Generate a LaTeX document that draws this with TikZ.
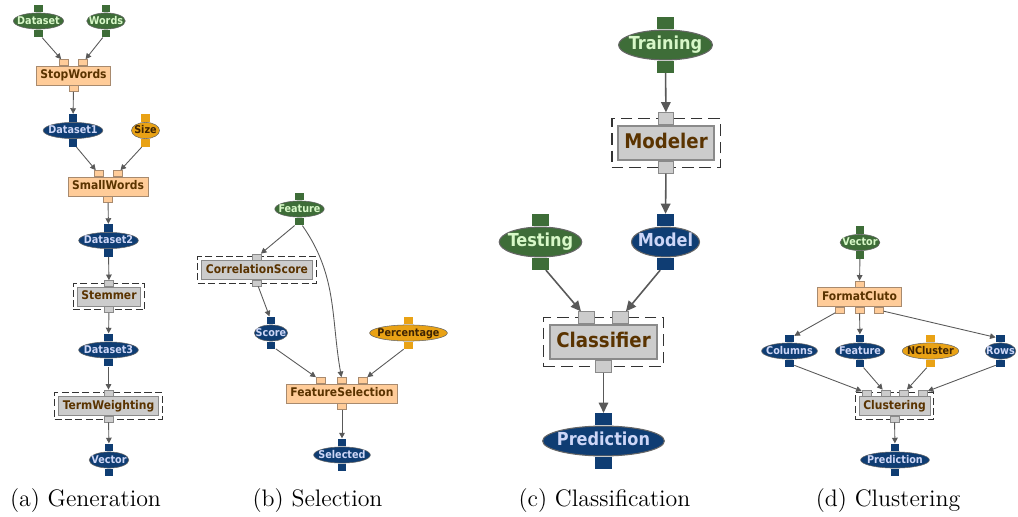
\documentclass[tikz,border=0pt]{standalone}
\usepackage{fontspec}
\newfontfamily\wffont{DejaVu Sans Condensed}
\usetikzlibrary{shapes.geometric,arrows.meta,positioning,calc,fit}

\definecolor{dgreen}{HTML}{3E6D38}
\definecolor{lgreen}{HTML}{D8F8C8}
\definecolor{dblue}{HTML}{0F3D73}
\definecolor{lblue}{HTML}{CDD6F7}
\definecolor{dorange}{HTML}{E9A215}
\definecolor{peach}{HTML}{FFCC99}
\definecolor{lgray}{HTML}{CCCCCC}
\definecolor{boxline}{HTML}{A88A6E}
\definecolor{grayline}{HTML}{8A8A8A}
\definecolor{dbrown}{HTML}{3E2403}
\definecolor{tbrown}{HTML}{5A3300}

\tikzset{
	data/.style={ellipse, draw=black!60, line width=0.3pt, inner xsep=-2pt, inner ysep=0pt,
		text height=4.5pt, text depth=1pt, minimum height=9.2pt, minimum width=16pt,
		font=\wffont\bfseries\fontsize{6.1}{7}\selectfont},
	indata/.style={data, fill=dgreen, text=lgreen},
	outdata/.style={data, fill=dblue, text=lblue},
	param/.style={data, fill=dorange, text=dbrown},
	big/.style={inner xsep=-2pt, text height=7.6pt, text depth=2.2pt, minimum height=17pt,
		line width=0.6pt, font=\wffont\bfseries\fontsize{10.2}{12}\selectfont},
	task/.style={rectangle, draw=boxline, fill=peach, text=tbrown, line width=0.4pt,
		inner xsep=2.4pt, inner ysep=0pt, text height=5pt, text depth=1.4pt, minimum height=10.8pt,
		font=\wffont\bfseries\fontsize{6.8}{8}\selectfont},
	subtask/.style={task, draw=grayline, fill=lgray},
	bigtask/.style={inner xsep=3.5pt, text height=8.5pt, text depth=2.4pt, minimum height=19.3pt,
		line width=0.8pt, font=\wffont\bfseries\fontsize{11.5}{13}\selectfont},
	dashframe/.style={draw=black!80, line width=0.5pt, dash pattern=on 4pt off 1.9pt, inner sep=2pt},
	bigframe/.style={dashframe, line width=1pt, dash pattern=on 6.6pt off 3.4pt, inner xsep=3.3pt, inner ysep=3.9pt},
	port/.style={rectangle, inner sep=0pt, minimum width=5.1pt, minimum height=4.3pt},
	bigport/.style={port, minimum width=10pt, minimum height=6.8pt},
	tport/.style={port, fill=peach, draw=boxline, line width=0.3pt, minimum height=3.4pt},
	gport/.style={port, fill=lgray, draw=grayline, line width=0.3pt, minimum height=3.4pt},
	biggport/.style={gport, line width=0.6pt, minimum width=9pt, minimum height=6.8pt},
	flow/.style={draw=black!65, line width=0.5pt, -{Triangle[length=3.2pt,width=3.2pt]}},
	bigflow/.style={flow, line width=0.9pt, -{Triangle[length=5.8pt,width=5.4pt]}},
	wfcap/.style={font=\fontsize{13.6}{16}\selectfont, anchor=base}
}

\begin{document}
\begin{tikzpicture}[x=0.02cm, y=-0.02cm]
	\useasboundingbox (0,0) rectangle (1018,517);
	
	% (a) generation
	\node[indata] (ds) at (38.5,21) {Dataset};
	\node[indata] (wd) at (106,21) {Words};
	\node[task] (sw) at (73.5,75.5) {StopWords};
	\node[outdata] (d1) at (73,130.5) {Dataset1};
	\node[param] (sz) at (145.5,130.5) {Size};
	\node[task] (smw) at (108,186.5) {SmallWords};
	\node[outdata] (d2) at (108.5,240.5) {Dataset2};
	\node[subtask] (stm) at (109,296.5) {Stemmer};
	\node[outdata] (d3) at (108.5,350) {Dataset3};
	\node[subtask] (tw) at (108.5,406) {TermWeighting};
	\node[outdata] (vec) at (109,460) {Vector};
	
	% (b) selection
	\node[indata] (ft) at (299.5,209) {Feature};
	\node[subtask] (cs) at (257,270) {CorrelationScore};
	\node[outdata] (sc) at (271,333) {Score};
	\node[param] (pc) at (408.5,333) {Percentage};
	\node[task] (fs) at (342,393.5) {FeatureSelection};
	\node[outdata] (sel) at (342,455) {Selected};
	
	% (c) classification
	\node[indata, big] (tr) at (665.5,45) {Training};
	\node[subtask, bigtask] (mod) at (666,143) {Modeler};
	\node[indata, big] (tst) at (540.5,242) {Testing};
	\node[outdata, big] (mdl) at (665.5,242) {Model};
	\node[subtask, bigtask] (cl) at (603.5,342) {Classifier};
	\node[outdata, big] (pred) at (603.5,441) {Prediction};
	
	% (d) clustering
	\node[indata] (vc) at (860,242.5) {Vector};
	\node[task] (fc) at (859.5,297) {FormatCluto};
	\node[outdata] (col) at (789.5,351) {Columns};
	\node[outdata] (fe) at (860,351) {Feature};
	\node[param] (nc) at (930.5,351) {NCluster};
	\node[outdata] (rw) at (1000.5,351) {Rows};
	\node[subtask] (clu) at (894.5,406) {Clustering};
	\node[outdata] (pd) at (895,460) {Prediction};
	
	% dashed frames
	\foreach \n in {stm,tw,cs,clu}
		\node[dashframe, fit=(\n)] {};
	\foreach \n in {mod,cl}
		\node[bigframe, fit=(\n)] {};
	
	% data ports
	\foreach \n/\c in {ds/dgreen,wd/dgreen,d1/dblue,sz/dorange,d2/dblue,d3/dblue,vec/dblue,
		ft/dgreen,sc/dblue,pc/dorange,sel/dblue,
		vc/dgreen,col/dblue,fe/dblue,nc/dorange,rw/dblue,pd/dblue}{
		\node[port, fill=\c, anchor=south] (\n-t) at (\n.north) {};
		\node[port, fill=\c, anchor=north] (\n-b) at (\n.south) {};
	}
	\foreach \n/\c in {tr/dgreen,tst/dgreen,mdl/dblue,pred/dblue}{
		\node[bigport, fill=\c, anchor=south] (\n-t) at (\n.north) {};
		\node[bigport, fill=\c, anchor=north] (\n-b) at (\n.south) {};
	}
	
	% task ports
	\foreach \i/\dx in {1/-9.5,2/9.5}{
		\node[tport, anchor=south] (sw-i\i) at ($(sw.north)+(\dx,0)$) {};
		\node[tport, anchor=south] (smw-i\i) at ($(smw.north)+(\dx,0)$) {};
	}
	\node[tport, anchor=north] (sw-o) at (sw.south) {};
	\node[tport, anchor=north] (smw-o) at (smw.south) {};
	\foreach \n in {stm,tw,cs}{
		\node[gport, anchor=south] (\n-i) at (\n.north) {};
		\node[gport, anchor=north] (\n-o) at (\n.south) {};
	}
	\foreach \i/\dx in {1/-21.5,2/0,3/21}
		\node[tport, anchor=south] (fs-i\i) at ($(fs.north)+(\dx,0)$) {};
	\node[tport, anchor=north] (fs-o) at (fs.south) {};
	\node[biggport, anchor=south] (mod-i) at (mod.north) {};
	\node[biggport, anchor=north] (mod-o) at (mod.south) {};
	\foreach \i/\dx in {1/-17,2/17}
		\node[biggport, anchor=south] (cl-i\i) at ($(cl.north)+(\dx,0)$) {};
	\node[biggport, anchor=north] (cl-o) at (cl.south) {};
	\node[tport, anchor=south] (fc-i) at (fc.north) {};
	\foreach \i/\dx in {1/-19.5,2/0,3/19.5}
		\node[tport, anchor=north] (fc-o\i) at ($(fc.south)+(\dx,0)$) {};
	\foreach \i/\dx in {1/-28,2/-9,3/9.5,4/28.5}
		\node[gport, anchor=south] (clu-i\i) at ($(clu.north)+(\dx,0)$) {};
	\node[gport, anchor=north] (clu-o) at (clu.south) {};
	
	% flows
	\draw[flow] (ds-b) -- (sw-i1);
	\draw[flow] (wd-b) -- (sw-i2);
	\draw[flow] (sw-o) -- (d1-t);
	\draw[flow] (d1-b) -- (smw-i1);
	\draw[flow] (sz-b) -- (smw-i2);
	\draw[flow] (smw-o) -- (d2-t);
	\draw[flow] (d2-b) -- (stm-i);
	\draw[flow] (stm-o) -- (d3-t);
	\draw[flow] (d3-b) -- (tw-i);
	\draw[flow] (tw-o) -- (vec-t);
	
	\draw[flow] (ft-b) -- (cs-i);
	\draw[flow] (ft-b) to[out=-55, in=100] (fs-i2);
	\draw[flow] (cs-o) -- (sc-t);
	\draw[flow] (sc-b) -- (fs-i1);
	\draw[flow] (pc-b) -- (fs-i3);
	\draw[flow] (fs-o) -- (sel-t);
	
	\draw[bigflow] (tr-b) -- (mod-i);
	\draw[bigflow] (mod-o) -- (mdl-t);
	\draw[bigflow] (tst-b) -- (cl-i1);
	\draw[bigflow] (mdl-b) -- (cl-i2);
	\draw[bigflow] (cl-o) -- (pred-t);
	
	\draw[flow] (vc-b) -- (fc-i);
	\draw[flow] (fc-o1) -- (col-t);
	\draw[flow] (fc-o2) -- (fe-t);
	\draw[flow] (fc-o3) -- (rw-t);
	\draw[flow] (col-b) -- (clu-i1);
	\draw[flow] (fe-b) -- (clu-i2);
	\draw[flow] (nc-b) -- (clu-i3);
	\draw[flow] (rw-b) -- (clu-i4);
	\draw[flow] (clu-o) -- (pd-t);
	
	% captions
	\node[wfcap] (capa) at (85.5,506) {(a) Generation};
	\node[wfcap] (capb) at (317.5,506) {(b) Selection};
	\node[wfcap] (capc) at (604.5,506) {(c) Classification};
	\node[wfcap] (capd) at (888,506) {(d) Clustering};
\end{tikzpicture}
\end{document}
